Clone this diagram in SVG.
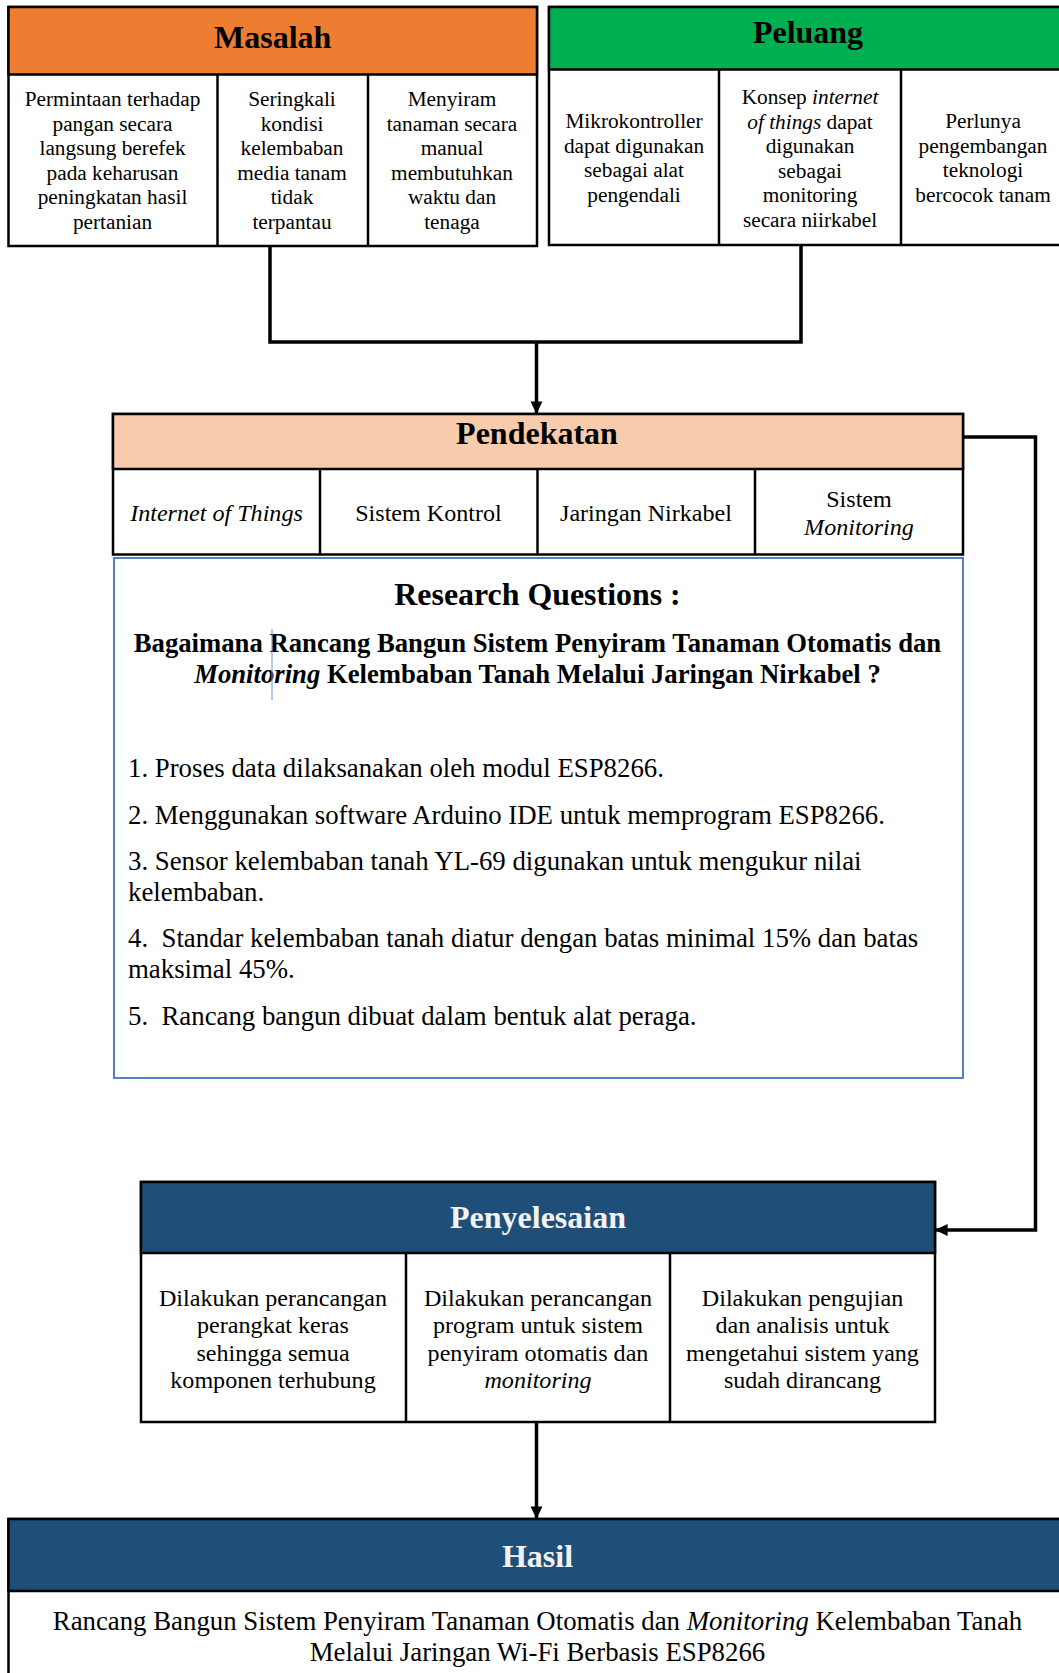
<svg xmlns="http://www.w3.org/2000/svg" width="1059" height="1673" viewBox="0 0 1059 1673">
<style>
text{font-family:"Liberation Serif","Times New Roman",serif;fill:#000}
.t{font-weight:bold;font-size:32px;text-anchor:middle}
.w{fill:#F2F2F2}
.s{font-size:21.3px;text-anchor:middle}
.m{font-size:24.1px;text-anchor:middle}
.l{font-size:26.8px}
.q{font-weight:bold;font-size:26.7px;text-anchor:middle}
.i{font-style:italic}
.pre{white-space:pre}
.box{fill:#fff;stroke:#000;stroke-width:2.5}
.div{stroke:#000;stroke-width:2.5}
.con{fill:none;stroke:#000;stroke-width:3.5}
</style>
<defs>
<marker id="ah" markerWidth="4" markerHeight="4" refX="3.6" refY="2" orient="auto" markerUnits="strokeWidth">
<path d="M0,0.3 L3.6,2 L0,3.7 Z" fill="#000"/>
</marker>
</defs>

<g id="masalah">
<rect class="box" x="8.5" y="7" width="528.5" height="239"/>
<rect x="8.5" y="7" width="528.5" height="67.5" fill="#ED7D31" stroke="#000" stroke-width="2.5"/>
<line class="div" x1="217.5" y1="74.5" x2="217.5" y2="246"/>
<line class="div" x1="368" y1="74.5" x2="368" y2="246"/>
<text class="t" x="272.7" y="48">Masalah</text>
<text class="s"><tspan x="112.5" y="106">Permintaan terhadap</tspan><tspan x="112.5" y="130.5">pangan secara</tspan><tspan x="112.5" y="155">langsung berefek</tspan><tspan x="112.5" y="179.5">pada keharusan</tspan><tspan x="112.5" y="204">peningkatan hasil</tspan><tspan x="112.5" y="228.5">pertanian</tspan></text>
<text class="s"><tspan x="292" y="106">Seringkali</tspan><tspan x="292" y="130.5">kondisi</tspan><tspan x="292" y="155">kelembaban</tspan><tspan x="292" y="179.5">media tanam</tspan><tspan x="292" y="204">tidak</tspan><tspan x="292" y="228.5">terpantau</tspan></text>
<text class="s"><tspan x="452" y="106">Menyiram</tspan><tspan x="452" y="130.5">tanaman secara</tspan><tspan x="452" y="155">manual</tspan><tspan x="452" y="179.5">membutuhkan</tspan><tspan x="452" y="204">waktu dan</tspan><tspan x="452" y="228.5">tenaga</tspan></text>
</g>

<g id="peluang">
<rect class="box" x="549" y="7" width="515" height="238"/>
<rect x="549" y="7" width="515" height="62.5" fill="#00B050" stroke="#000" stroke-width="2.5"/>
<line class="div" x1="719" y1="69.5" x2="719" y2="245"/>
<line class="div" x1="901" y1="69.5" x2="901" y2="245"/>
<text class="t" x="808" y="43">Peluang</text>
<text class="s"><tspan x="634" y="128">Mikrokontroller</tspan><tspan x="634" y="152.5">dapat digunakan</tspan><tspan x="634" y="177">sebagai alat</tspan><tspan x="634" y="201.5">pengendali</tspan></text>
<text class="s"><tspan x="810" y="104">Konsep <tspan class="i">internet</tspan></tspan><tspan x="810" y="128.5"><tspan class="i">of things</tspan> dapat</tspan><tspan x="810" y="153">digunakan</tspan><tspan x="810" y="177.5">sebagai</tspan><tspan x="810" y="202">monitoring</tspan><tspan x="810" y="226.5">secara niirkabel</tspan></text>
<text class="s"><tspan x="983" y="128">Perlunya</tspan><tspan x="983" y="152.5">pengembangan</tspan><tspan x="983" y="177">teknologi</tspan><tspan x="983" y="201.5">bercocok tanam</tspan></text>
</g>

<g id="pendekatan">
<rect class="box" x="113" y="414" width="850" height="140.5"/>
<rect x="113" y="414" width="850" height="55" fill="#F8CBAD" stroke="#000" stroke-width="2.5"/>
<line class="div" x1="320" y1="469" x2="320" y2="554.5"/>
<line class="div" x1="537.5" y1="469" x2="537.5" y2="554.5"/>
<line class="div" x1="755" y1="469" x2="755" y2="554.5"/>
<text class="t" x="537" y="444">Pendekatan</text>
<text class="m i" x="216.5" y="521">Internet of Things</text>
<text class="m" x="428.5" y="521">Sistem Kontrol</text>
<text class="m" x="646" y="521">Jaringan Nirkabel</text>
<text class="m"><tspan x="859" y="507">Sistem</tspan><tspan class="i" x="859" y="535">Monitoring</tspan></text>
</g>

<g id="research-questions">
<rect x="114" y="558" width="849" height="520" fill="#fff" stroke="#4472C4" stroke-width="1.8"/>
<text class="t" x="537.5" y="605" style="font-size:31.9px">Research Questions :</text>
<text class="q"><tspan x="537.5" y="652">Bagaimana Rancang Bangun Sistem Penyiram Tanaman Otomatis dan</tspan><tspan x="537.5" y="683"><tspan class="i">Monitoring</tspan> Kelembaban Tanah Melalui Jaringan Nirkabel ?</tspan></text>
<line x1="272" y1="629" x2="272" y2="700" stroke="#6F8FD0" stroke-width="1"/>
<text class="l" x="128" y="777">1. Proses data dilaksanakan oleh modul ESP8266.</text>
<text class="l" x="128" y="824">2. Menggunakan software Arduino IDE untuk memprogram ESP8266.</text>
<text class="l"><tspan x="128" y="870">3. Sensor kelembaban tanah YL-69 digunakan untuk mengukur nilai</tspan><tspan x="128" y="901">kelembaban.</tspan></text>
<text class="l pre"><tspan x="128" y="947">4.  Standar kelembaban tanah diatur dengan batas minimal 15% dan batas</tspan><tspan x="128" y="978">maksimal 45%.</tspan></text>
<text class="l pre" x="128" y="1025">5.  Rancang bangun dibuat dalam bentuk alat peraga.</text>
</g>

<g id="penyelesaian">
<rect class="box" x="141" y="1182" width="794" height="240"/>
<rect x="141" y="1182" width="794" height="71" fill="#1F4E79" stroke="#000" stroke-width="2.5"/>
<line class="div" x1="406" y1="1253" x2="406" y2="1422"/>
<line class="div" x1="670" y1="1253" x2="670" y2="1422"/>
<text class="t w" x="538" y="1228">Penyelesaian</text>
<text class="m"><tspan x="273" y="1306">Dilakukan perancangan</tspan><tspan x="273" y="1333">perangkat keras</tspan><tspan x="273" y="1360.5">sehingga semua</tspan><tspan x="273" y="1388">komponen terhubung</tspan></text>
<text class="m"><tspan x="538" y="1306">Dilakukan perancangan</tspan><tspan x="538" y="1333">program untuk sistem</tspan><tspan x="538" y="1360.5">penyiram otomatis dan</tspan><tspan class="i" x="538" y="1388">monitoring</tspan></text>
<text class="m"><tspan x="802.5" y="1306">Dilakukan pengujian</tspan><tspan x="802.5" y="1333">dan analisis untuk</tspan><tspan x="802.5" y="1360.5">mengetahui sistem yang</tspan><tspan x="802.5" y="1388">sudah dirancang</tspan></text>
</g>

<g id="hasil">
<rect class="box" x="8.5" y="1519" width="1060" height="170"/>
<rect x="8.5" y="1519" width="1060" height="72" fill="#1F4E79" stroke="#000" stroke-width="2.5"/>
<text class="t w" x="537.5" y="1567">Hasil</text>
<text class="l" style="text-anchor:middle"><tspan x="537.5" y="1630">Rancang Bangun Sistem Penyiram Tanaman Otomatis dan <tspan class="i">Monitoring</tspan> Kelembaban Tanah</tspan><tspan x="537.5" y="1661">Melalui Jaringan Wi-Fi Berbasis ESP8266</tspan></text>
</g>

<g id="connectors">
<polyline class="con" points="270,246 270,342 801,342 801,245"/>
<line class="con" x1="536.5" y1="342" x2="536.5" y2="414" marker-end="url(#ah)"/>
<polyline class="con" points="963,437 1035.5,437 1035.5,1230 935,1230" marker-end="url(#ah)"/>
<line class="con" x1="536.5" y1="1422" x2="536.5" y2="1519" marker-end="url(#ah)"/>
</g>
</svg>
